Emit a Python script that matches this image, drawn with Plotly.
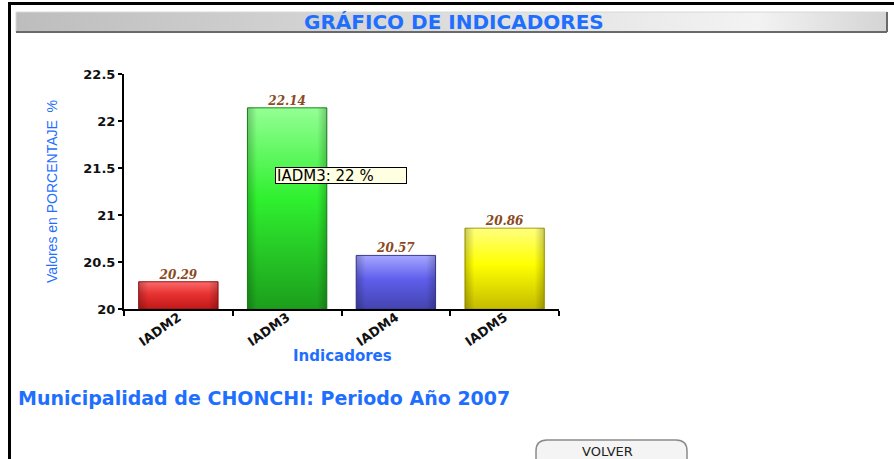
import plotly.graph_objects as go

# ---- data ----
categories = ["IADM2", "IADM3", "IADM4", "IADM5"]
values = [20.29, 22.14, 20.57, 20.86]
y_ticks = [20, 20.5, 21, 21.5, 22, 22.5]
highlight_index = 1  # category whose value is shown in the tooltip box

page_title = "GRÁFICO DE INDICADORES"
y_title = "Valores en PORCENTAJE\u00a0 %"
x_title = "Indicadores"
footer_text = "Municipalidad de CHONCHI: Periodo Año 2007"
button_text = "VOLVER"

# ---- styling ----
W, H = 894, 459
BLUE = "#1f6fff"
bar_gradients = [
    ["#c01818", "#e83232", "#fa6a6a"],   # red
    ["#1c9e1c", "#2ff02f", "#94ff94"],   # green
    ["#4444b0", "#5e5eec", "#a6a6ff"],   # blue
    ["#c4bc00", "#ffff00", "#ffff80"],   # yellow
]
bar_edges = ["#9a1010", "#1a8a1a", "#3a3a9a", "#a8a000"]
bar_width = 0.73
y_floor = y_ticks[0]

fig = go.Figure()

# bars as gradient-filled polygons on the data axes
for i, (cat, v) in enumerate(zip(categories, values)):
    x0, x1 = i - bar_width / 2, i + bar_width / 2
    low, mid, high = bar_gradients[i]
    fig.add_trace(go.Scatter(
        x=[x0, x0, x1, x1, x0], y=[y_floor, v, v, y_floor, y_floor],
        mode="lines", fill="toself",
        fillgradient=dict(type="vertical",
                          colorscale=[[0, low], [0.55, mid], [1, high]]),
        line=dict(color=bar_edges[i], width=1),
        hoverinfo="skip", showlegend=False,
    ))
    # side shading to give the bars a rounded look
    fig.add_trace(go.Scatter(
        x=[x0, x0, x1, x1, x0], y=[y_floor, v, v, y_floor, y_floor],
        mode="lines", fill="toself",
        fillgradient=dict(type="horizontal",
                          colorscale=[[0, "rgba(0,0,0,0.22)"], [0.12, "rgba(0,0,0,0)"],
                                      [0.88, "rgba(0,0,0,0)"], [1, "rgba(0,0,0,0.22)"]]),
        line=dict(width=0),
        hoverinfo="skip", showlegend=False,
    ))

# value labels above the bars
fig.add_trace(go.Scatter(
    x=list(range(len(categories))), y=values,
    mode="text", text=[f"{v:.2f}" for v in values],
    textposition="top center",
    textfont=dict(family="DejaVu Serif", size=12, color="#8b4a1e",
                  style="italic", weight="bold"),
    hoverinfo="skip", showlegend=False,
))

# title bar (pixel-coordinate overlay axes)
bx0, bx1, by0, by1 = 16, 887, 12, 32
fig.add_trace(go.Scatter(
    x=[bx0, bx1, bx1, bx0, bx0], y=[by0, by0, by1, by1, by0],
    xaxis="x2", yaxis="y2", mode="lines", fill="toself",
    fillgradient=dict(type="horizontal",
                      colorscale=[[0, "#bdbdbd"], [0.85, "#f3f3f3"], [1, "#d4d4d4"]]),
    line=dict(color="#d8d8d8", width=1),
    hoverinfo="skip", showlegend=False,
))

shapes = [
    # bar shadow edges
    dict(type="line", xref="x2", yref="y2", x0=bx1, x1=bx1, y0=by0, y1=by1,
         line=dict(color="#6a6a6a", width=2)),
    dict(type="line", xref="x2", yref="y2", x0=bx0, x1=bx1, y0=by1, y1=by1,
         line=dict(color="#6a6a6a", width=2)),
    # page frame
    dict(type="line", xref="x2", yref="y2", x0=8, x1=W, y0=3.5, y1=3.5,
         line=dict(color="black", width=3)),
    dict(type="line", xref="x2", yref="y2", x0=9.5, x1=9.5, y0=3, y1=H,
         line=dict(color="black", width=3)),
    # button
    dict(type="path", xref="x2", yref="y2",
         path="M 547,440 L 676,440 Q 687,440 687,451 L 687,470 L 536,470 L 536,451 Q 536,440 547,440 Z",
         fillcolor="#f4f4f4", line=dict(color="#8a8a8a", width=1.5)),
]

annotations = [
    dict(xref="x2", yref="y2", x=454, y=21.5, text=f"<b>{page_title}</b>",
         showarrow=False, font=dict(family="DejaVu Sans", size=20, color=BLUE)),
    dict(xref="x2", yref="y2", x=16, y=398, xanchor="left", text=footer_text,
         showarrow=False, font=dict(family="DejaVu Sans", size=19, color=BLUE, weight="bold")),
    dict(xref="x2", yref="y2", x=607, y=451, text=button_text,
         showarrow=False, font=dict(family="DejaVu Sans", size=13, color="#222222")),
    dict(xref="x2", yref="y2", x=341, y=175.5,
         text=f"{categories[highlight_index]}: {round(values[highlight_index])} %",
         showarrow=False, width=128, height=13, align="left",
         bgcolor="#ffffe1", bordercolor="black", borderwidth=1, borderpad=1,
         font=dict(family="DejaVu Sans", size=15, color="black")),
    # x-axis title, placed close under the slanted category labels
    dict(xref="x2", yref="y2", x=342, y=356, text=x_title, showarrow=False,
         font=dict(family="DejaVu Sans", size=15, color=BLUE, weight="bold")),
]

fig.update_layout(
    width=W, height=H,
    margin=dict(l=0, r=0, t=0, b=0),
    paper_bgcolor="white", plot_bgcolor="rgba(0,0,0,0)",
    showlegend=False,
    xaxis=dict(
        domain=[124 / W, 559 / W], range=[-0.5, len(categories) - 0.5],
        tickmode="array", tickvals=list(range(len(categories))), ticktext=categories,
        ticks="", tickangle=-35, ticklabelstandoff=-6,
        tickfont=dict(family="DejaVu Sans", size=13, color="#111111", weight="bold"),
        minor=dict(tickmode="array",
                   tickvals=[i - 0.5 for i in range(len(categories) + 1)],
                   ticks="outside", ticklen=5, tickwidth=1.5, tickcolor="black"),
        showline=True, linecolor="black", linewidth=2,
        showgrid=False, zeroline=False, automargin=False, fixedrange=True,
    ),
    yaxis=dict(
        domain=[1 - 309 / H, 1 - 74 / H], range=[y_ticks[0], y_ticks[-1]],
        tickmode="array", tickvals=y_ticks,
        ticks="outside", ticklen=4, tickwidth=1.5, tickcolor="black",
        tickfont=dict(family="DejaVu Sans", size=13, color="#111111", weight="bold"),
        showline=True, linecolor="black", linewidth=2,
        showgrid=False, zeroline=False, automargin=False, fixedrange=True,
        title=dict(text=y_title, standoff=22,
                   font=dict(family="Liberation Sans Narrow, Liberation Sans", size=14,
                             color=BLUE)),
    ),
    xaxis2=dict(domain=[0, 1], range=[0, W], anchor="y2", visible=False, fixedrange=True),
    yaxis2=dict(domain=[0, 1], range=[H, 0], anchor="x2", visible=False, fixedrange=True),
    shapes=shapes,
    annotations=annotations,
)

fig.write_html("out.html")
